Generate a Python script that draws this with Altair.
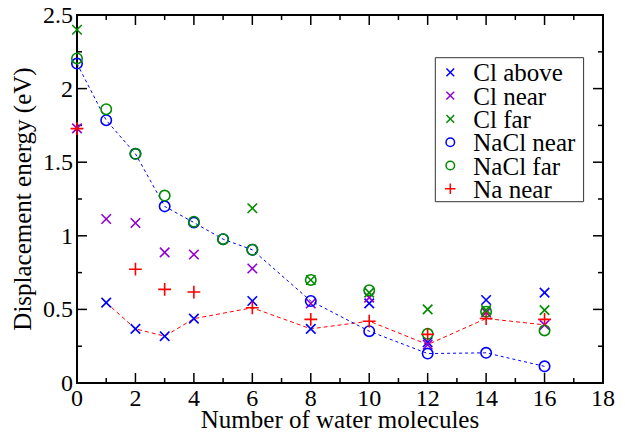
import altair as alt
import pandas as pd

# ---------------- data ----------------
series_names = ["Cl above", "Cl near", "Cl far", "NaCl near", "NaCl far", "Na near"]
series_colors = ["#0000ff", "#9400d3", "#008b00", "#0000ff", "#008b00", "#ff0000"]

x_cl_above = [1, 2, 3, 4, 6, 8, 10, 12, 14, 16]
y_cl_above = [0.546, 0.368, 0.318, 0.437, 0.557, 0.368, 0.541, 0.277, 0.564, 0.614]

x_cl_near = [0, 1, 2, 3, 4, 6, 8, 10, 12, 14, 16]
y_cl_near = [1.73, 1.114, 1.087, 0.887, 0.873, 0.778, 0.54, 0.58, 0.261, 0.48, 0.395]

x_cl_far = [0, 6, 8, 10, 12, 14, 16]
y_cl_far = [2.40, 1.187, 0.70, 0.614, 0.50, 0.495, 0.495]

x_nacl_near = [0, 1, 2, 3, 4, 5, 6, 8, 10, 12, 14, 16]
y_nacl_near = [2.17, 1.785, 1.557, 1.20, 1.09, 0.977, 0.905, 0.557, 0.352, 0.20, 0.205, 0.113]

x_nacl_far = [0, 1, 2, 3, 4, 5, 6, 8, 10, 12, 14, 16]
y_nacl_far = [2.205, 1.86, 1.557, 1.273, 1.096, 0.977, 0.905, 0.70, 0.63, 0.334, 0.484, 0.357]

x_na_near = [0, 2, 3, 4, 6, 8, 10, 12, 14, 16]
y_na_near = [1.728, 0.773, 0.636, 0.618, 0.511, 0.432, 0.42, 0.33, 0.438, 0.432]

# dashed guide lines
x_red_line = [1, 2, 3, 4, 6, 8, 10, 12, 14, 16]
y_red_line = [0.546, 0.368, 0.318, 0.437, 0.511, 0.368, 0.42, 0.261, 0.438, 0.395]

x_blue_line = x_nacl_near
y_blue_line = y_nacl_near

x_ticks_major = [0, 2, 4, 6, 8, 10, 12, 14, 16, 18]
x_tick_labels = ["0", "2", "4", "6", "8", "10", "12", "14", "16", "18"]
x_ticks_minor = [1, 3, 5, 7, 9, 11, 13, 15, 17]
y_ticks_major = [0, 0.5, 1, 1.5, 2, 2.5]
y_tick_labels = ["0", "0.5", "1", "1.5", "2", "2.5"]
y_ticks_minor = [0.25, 0.75, 1.25, 1.75, 2.25]

x_title = "Number of water molecules"
y_title = "Displacement energy (eV)"

# ---------------- tables ----------------
rows = []
for name, xs, ys in [
    ("Cl above", x_cl_above, y_cl_above),
    ("Cl near", x_cl_near, y_cl_near),
    ("Cl far", x_cl_far, y_cl_far),
    ("NaCl near", x_nacl_near, y_nacl_near),
    ("NaCl far", x_nacl_far, y_nacl_far),
    ("Na near", x_na_near, y_na_near),
]:
    for a, b in zip(xs, ys):
        rows.append({"series": name, "n": a, "e": b})
pts = pd.DataFrame(rows)

red_df = pd.DataFrame({"n": x_red_line, "e": y_red_line})
blue_df = pd.DataFrame({"n": x_blue_line, "e": y_blue_line})
leg_df = pd.DataFrame({"series": series_names, "row": list(range(len(series_names)))})

W, H = 526, 368
FONT = "Liberation Serif"

X_PATH = "M-1,-1L1,1M1,-1L-1,1"
O_PATH = "M-1.1,0A1.1,1.1,0,1,0,1.1,0A1.1,1.1,0,1,0,-1.1,0Z"
P_PATH = "M-1.35,0L1.35,0M0,-1.35L0,1.35"
series_shapes = [X_PATH, X_PATH, X_PATH, O_PATH, O_PATH, P_PATH]

xscale = alt.Scale(domain=[0, 18], nice=False, zero=False)
yscale = alt.Scale(domain=[0, 2.5], nice=False, zero=False)
color_scale = alt.Scale(domain=series_names, range=series_colors)
shape_scale = alt.Scale(domain=series_names, range=series_shapes)

X = alt.X("n:Q", scale=xscale, axis=None)
Y = alt.Y("e:Q", scale=yscale, axis=None)
COLOR = alt.Color("series:N", scale=color_scale, legend=None)
SHAPE = alt.Shape("series:N", scale=shape_scale, legend=None)

points = alt.Chart(pts).mark_point(filled=False, strokeWidth=1.6, size=90, opacity=1).encode(
    x=X, y=Y, color=COLOR, shape=SHAPE)

red_line = alt.Chart(red_df).mark_line(color="#ff0000", strokeWidth=1, strokeDash=[4, 3]).encode(x=X, y=Y)
blue_line = alt.Chart(blue_df).mark_line(color="#0000ff", strokeWidth=1, strokeDash=[3, 3]).encode(x=X, y=Y)

def xticks(vals, y0, y1):
    return alt.Chart(pd.DataFrame({"n": vals})).mark_rule(color="black", strokeWidth=1.5).encode(
        x=X, y=alt.value(y0), y2=alt.value(y1))

def yticks(vals, x0, x1):
    return alt.Chart(pd.DataFrame({"e": vals})).mark_rule(color="black", strokeWidth=1.5).encode(
        y=Y, x=alt.value(x0), x2=alt.value(x1))

ticks = [
    xticks(x_ticks_major, H, H - 10), xticks(x_ticks_minor, H, H - 5),
    xticks(x_ticks_major, 0, 10), xticks(x_ticks_minor, 0, 5),
    yticks(y_ticks_major, 0, 10), yticks(y_ticks_minor, 0, 5),
    yticks(y_ticks_major, W, W - 10), yticks(y_ticks_minor, W, W - 5),
]

# tick labels and axis titles
xlab = alt.Chart(pd.DataFrame({"n": x_ticks_major, "lab": x_tick_labels})).mark_text(
    font=FONT, fontSize=24, baseline="alphabetic", align="center", color="black").encode(
    x=X, y=alt.value(H + 23), text="lab:N")
ylab = alt.Chart(pd.DataFrame({"e": y_ticks_major, "lab": y_tick_labels})).mark_text(
    font=FONT, fontSize=24, baseline="middle", align="right", color="black", dy=1).encode(
    y=Y, x=alt.value(-4), text="lab:N")
xtit = alt.Chart(pd.DataFrame({"t": [x_title]})).mark_text(
    font=FONT, fontSize=25, baseline="alphabetic", align="center", color="black").encode(
    x=alt.value(W / 2), y=alt.value(H + 45), text="t:N")
ytit = alt.Chart(pd.DataFrame({"t": [y_title]})).mark_text(
    font=FONT, fontSize=25, baseline="alphabetic", align="center", color="black", angle=270).encode(
    x=alt.value(-46), y=alt.value(H / 2), text="t:N")

# legend box
LX0, LX1, LY0, LY1 = 358.3, 506.6, 42.7, 186.7
row_y = alt.Y("row:Q", scale=alt.Scale(domain=[0, 5], range=[57.3, 173.8]), axis=None)
leg_box = alt.Chart(pd.DataFrame({"t": [0]})).mark_rect(
    fill="white", stroke="#333", strokeWidth=1).encode(
    x=alt.value(LX0), x2=alt.value(LX1), y=alt.value(LY0), y2=alt.value(LY1))
leg_sym = alt.Chart(leg_df).mark_point(filled=False, strokeWidth=1.5, size=60, opacity=1).encode(
    x=alt.value(373.3), y=row_y, color=COLOR, shape=SHAPE)
leg_txt = alt.Chart(leg_df).mark_text(
    font=FONT, fontSize=25, baseline="middle", align="left", color="black", dy=1).encode(
    x=alt.value(396.3), y=row_y, text="series:N")

chart = alt.layer(
    red_line, blue_line, *ticks, points, xlab, ylab, xtit, ytit, leg_box, leg_sym, leg_txt
).resolve_scale(y="independent").properties(
    width=W, height=H,
    autosize=alt.AutoSizeParams(type="none"),
    padding={"left": 69, "top": 7, "right": 14, "bottom": 51},
).configure_view(stroke="black", strokeWidth=2)

chart.save("out.html", embed_options={"renderer": "svg", "actions": False})
